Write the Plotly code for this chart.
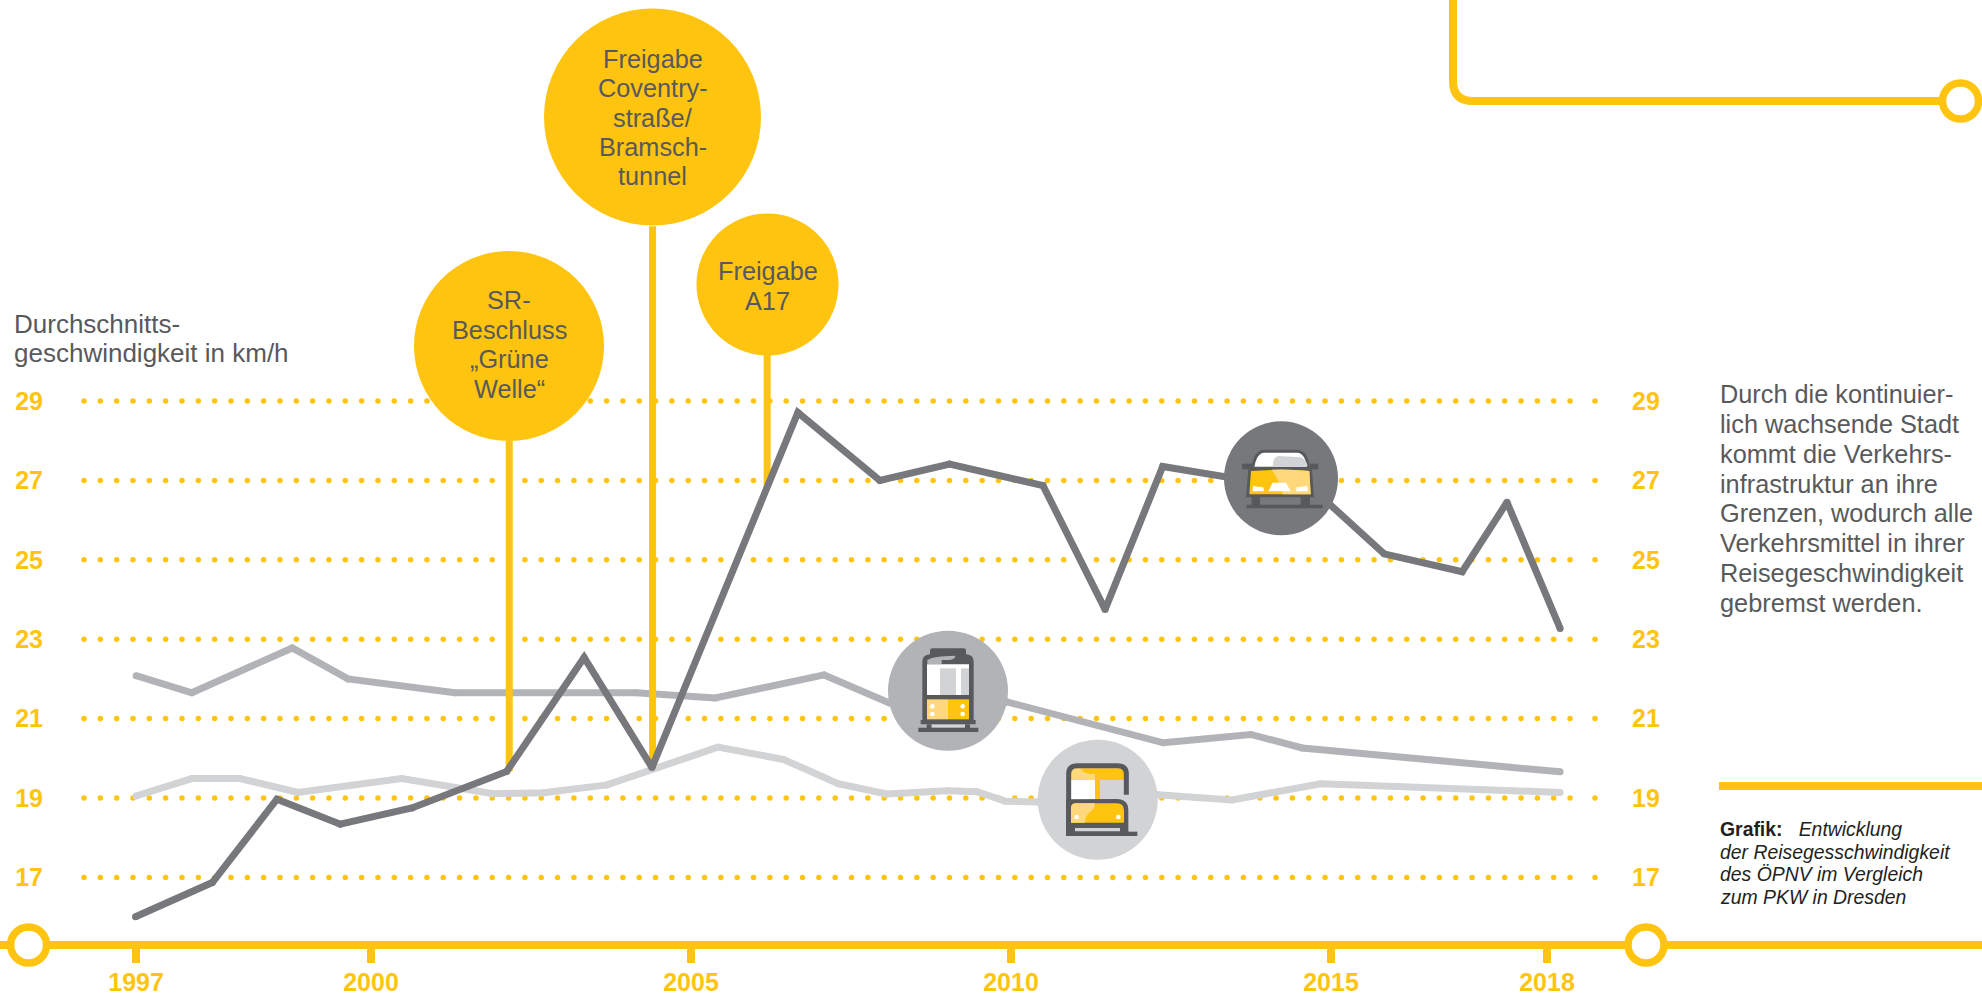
import re
import numpy as np
import plotly.graph_objects as go

W, H = 1982, 996
YELLOW = "#FFC40F"
LIGHTY = "#FFD87C"
DARK = "#58595B"
PKW_C = "#77787B"
TRAM_C = "#B1B3B6"
BUS_C = "#D1D3D4"
FONT = "Liberation Sans"

# ---- data (x is the chart's own horizontal position scale in years)
pkw_x = [1996.32, 1997.52, 1998.53, 1999.52, 2000.64, 2002.12, 2003.33, 2004.39, 2006.67, 2007.95,
         2009.04, 2010.50, 2011.47, 2012.37, 2013.46, 2014.55, 2015.83, 2017.05, 2017.75, 2018.58]
pkw_y = [16.01, 16.87, 18.97, 18.34, 18.75, 19.67, 22.54, 19.77, 28.71, 27.00,
         27.41, 26.87, 23.75, 27.35, 27.06, 27.03, 25.15, 24.70, 26.45, 23.27]
tram_x = [1996.33, 1997.20, 1998.77, 1999.64, 2001.31, 2004.14, 2005.38, 2007.08, 2008.11,
          2009.05, 2009.94, 2012.38, 2013.75, 2014.55, 2018.58]
tram_y = [22.08, 21.65, 22.78, 22.00, 21.65, 21.65, 21.52, 22.10, 21.39,
          21.39, 21.42, 20.39, 20.60, 20.26, 19.66]
bus_x = [1996.33, 1997.20, 1997.95, 1998.86, 2000.48, 2001.91, 2002.70, 2003.69, 2005.42, 2006.45,
         2007.30, 2008.05, 2009.00, 2009.47, 2009.91, 2010.42, 2012.30, 2013.45, 2014.84, 2018.58]
bus_y = [19.05, 19.49, 19.49, 19.14, 19.49, 19.11, 19.13, 19.33, 20.28, 19.97,
         19.36, 19.10, 19.18, 19.16, 18.92, 18.90, 19.08, 18.95, 19.36, 19.14]

event_x = [2002.16, 2004.40, 2006.19]
event_low = [19.67, 19.77, 26.83]
event_high = [28.0, 33.4, 30.2]

y_ticks = [17, 19, 21, 23, 25, 27, 29]
x_tick_pos = [1996.33, 2000, 2005, 2010, 2015, 2018.375]
x_tick_text = ["1997", "2000", "2005", "2010", "2015", "2018"]

header_lines = ["Durchschnitts-", "geschwindigkeit in km/h"]
bubble1_lines = ["SR-", "Beschluss", "„Grüne", "Welle“"]
bubble2_lines = ["Freigabe", "Coventry-", "straße/", "Bramsch-", "tunnel"]
bubble3_lines = ["Freigabe", "A17"]
side_lines = ["Durch die kontinuier-", "lich wachsende Stadt", "kommt die Verkehrs-",
              "infrastruktur an ihre", "Grenzen, wodurch alle", "Verkehrsmittel in ihrer",
              "Reisegeschwindigkeit", "gebremst werden."]
caption_lines = ["<b>Grafik:</b>\u00a0\u00a0\u00a0<i>Entwicklung</i>", "<i>der Reisegesschwindigkeit</i>",
                 "<i>des ÖPNV im Vergleich</i>", "<i>zum PKW in Dresden</i>"]

x_range = [2000 - 371 / 64, 2000 + (W - 371) / 64]
y_range = [29 - (H - 401) / 39.7, 29 + 401 / 39.7]


def px(x):
    return x / W


def py(y):
    return 1 - y / H


def zpath(ox, oy, d):
    """path in zoomed picture coordinates (3x) -> paper"""
    toks = re.findall(r"[A-Za-z]|-?[\d.]+", d)
    out, even = [], True
    for t in toks:
        if t.isalpha():
            out.append(t)
            even = True
        else:
            v = float(t)
            out.append(f"{px(ox + v / 3):.6f}" if even else f"{py(oy + v / 3):.6f}")
            even = not even
    return " ".join(out)


shapes = []


def circle(cx, cy, r, fill, line=None, lw=0):
    shapes.append(dict(type="circle", xref="paper", yref="paper", layer="above",
                       x0=px(cx - r), x1=px(cx + r), y0=py(cy + r), y1=py(cy - r),
                       fillcolor=fill, line=dict(color=line or fill, width=lw)))


def path(ox, oy, d, fill=None, line=None, lw=0):
    s = dict(type="path", xref="paper", yref="paper", layer="above", path=zpath(ox, oy, d),
             line=dict(color=line or "rgba(0,0,0,0)", width=lw))
    if fill:
        s["fillcolor"] = fill
    shapes.append(s)


def rect(ox, oy, x0, y0, x1, y1, fill):
    path(ox, oy, f"M {x0} {y0} L {x1} {y0} L {x1} {y1} L {x0} {y1} Z", fill=fill)


def zcircle(ox, oy, x, y, r, fill):
    circle(ox + x / 3, oy + y / 3, r / 3, fill)


# rings and rule
path(0, 0, "M 4359 -30 L 4359 243 Q 4359 303 4419 303 L 5817 303", line=YELLOW, lw=8)
circle(28.6, 945, 18, "white", YELLOW, 7.5)
circle(1646, 945, 18, "white", YELLOW, 7.5)
circle(1960.5, 101, 18, "white", YELLOW, 7.5)
rect(0, 0, 5157, 2346, 5946, 2370, YELLOW)

# event bubbles
circle(509, 346, 95, YELLOW)
circle(652.5, 117, 108.5, YELLOW)
circle(767.5, 284.5, 71, YELLOW)

# car icon
O = (1180, 400)
circle(1281, 478.3, 57, PKW_C)
path(*O, "M 218 205 Q 225 156 252 154 L 352 154 Q 380 156 386 205 Z", fill="white", line=DARK, lw=3)
path(*O, "M 278 198 Q 280 170 295 168 L 362 172 Q 378 178 383 198 Z", fill=BUS_C)
rect(*O, 186, 191, 218, 208, DARK)
rect(*O, 390, 191, 415, 208, DARK)
path(*O, "M 205 208 Q 300 200 396 208 L 402 292 L 198 292 Z", fill=DARK)
path(*O, "M 213 213 Q 300 206 388 213 L 392 283 L 208 283 Z", fill=YELLOW)
path(*O, "M 275 209 Q 335 207 388 213 L 392 283 L 308 283 Q 298 240 275 209 Z", fill=LIGHTY)
path(*O, "M 219 258 L 250 262 L 252 274 L 218 274 Z", fill="white")
path(*O, "M 382 258 L 350 262 L 348 274 L 384 274 Z", fill="white")
path(*O, "M 278 248 L 318 248 L 332 274 L 265 274 Z", fill="white")
rect(*O, 215, 290, 240, 318, DARK)
rect(*O, 362, 290, 390, 318, DARK)
rect(*O, 200, 314, 428, 325, DARK)

# tram icon
O = (850, 600)
circle(948, 690.7, 60, TRAM_C)
path(*O, "M 240 170 L 240 152 Q 240 145 248 145 L 340 145 Q 348 145 348 152 L 348 170 Z", fill=DARK)
path(*O, "M 217 365 L 217 183 Q 218 165 240 163 L 350 163 Q 370 165 371 183 L 371 365 Z", fill=DARK)
path(*O, "M 232 192 L 232 180 Q 250 168 315 167 Q 318 176 300 180 L 275 180 L 275 192 Z", fill=TRAM_C)
rect(*O, 231, 193, 357, 285, "white")
rect(*O, 270, 205, 318, 285, BUS_C)
rect(*O, 333, 205, 357, 285, BUS_C)
rect(*O, 231, 298, 294, 358, LIGHTY)
rect(*O, 294, 298, 357, 358, YELLOW)
for zx in (247, 338):
    for zy in (319, 342):
        zcircle(*O, zx, zy, 7, "white")
rect(*O, 212, 360, 377, 373, DARK)
rect(*O, 230, 373, 245, 395, DARK)
rect(*O, 345, 373, 360, 395, DARK)
rect(*O, 205, 383, 385, 396, DARK)
rect(*O, 245, 374, 345, 382, BUS_C)

# bus icon
circle(1097.7, 799.7, 60, BUS_C)
rect(*O, 663, 505, 822, 540, YELLOW)
path(*O, "M 663 505 L 692 505 Q 697 520 720 522 L 735 522 L 735 540 L 663 540 Z", fill=LIGHTY)
rect(*O, 663, 540, 735, 600, "white")
rect(*O, 735, 540, 750, 600, YELLOW)
path(*O, "M 656 610 L 656 522 Q 656 497 682 497 L 802 497 Q 829 497 829 522 L 829 584",
     line=DARK, lw=5)
path(*O, "M 648 610 L 648 598 L 800 597 Q 835 598 835 630 L 835 708 L 648 708 Z", fill=DARK)
path(*O, "M 663 668 L 663 625 Q 663 610 678 610 L 800 610 Q 822 610 822 632 L 822 668 Z", fill=YELLOW)
path(*O, "M 663 668 L 663 625 Q 663 610 678 610 L 735 610 Q 733 628 725 632 Q 705 645 705 668 Z", fill=LIGHTY)
zcircle(*O, 680, 651, 7, "white")
zcircle(*O, 805, 651, 7, "white")
rect(*O, 675, 684, 810, 694, BUS_C)
rect(*O, 830, 695, 862, 708, DARK)

# ---- traces
fig = go.Figure()

# dotted guide rows; the rows the first event stem crosses leave one dot out
dot_px = np.append(84 + 16.33 * np.arange(92), 1595.0)
dot_years = 2000 + (dot_px - 371) / 64
for tick in y_ticks:
    row = dot_years
    if tick > event_low[0]:
        row = row[np.abs(row - event_x[0]) > 0.06]
    fig.add_trace(go.Scatter(x=row, y=np.full(len(row), tick), mode="markers",
                             marker=dict(color=YELLOW, size=5.5), hoverinfo="skip"))


def series(x, y, color):
    fig.add_trace(go.Scatter(x=x, y=y, mode="lines+markers",
                             line=dict(color=color, width=7),
                             marker=dict(color=color, size=7)))


series(bus_x, bus_y, BUS_C)
series(tram_x, tram_y, TRAM_C)
for ex, lo, hi in zip(event_x, event_low, event_high):
    fig.add_trace(go.Scatter(x=[ex, ex], y=[lo, hi], mode="lines",
                             line=dict(color=YELLOW, width=7), hoverinfo="skip"))
series(pkw_x, pkw_y, PKW_C)
fig.add_trace(go.Scatter(x=[x_range[0]], y=[y_range[0]], yaxis="y2", mode="markers",
                         marker=dict(size=1, opacity=0), hoverinfo="skip"))

# ---- texts
TXT = dict(family=FONT, size=25.3, color=DARK)
HEAD = dict(family=FONT, size=26, color=DARK)
CAP = dict(family=FONT, size=19.4, color="#231F20")


def block(x, y_first, lines, step, xanchor="center", font=TXT):
    return [dict(xref="paper", yref="paper", x=px(x), y=py(y_first + i * step), text=t,
                 showarrow=False, xanchor=xanchor, yanchor="middle",
                 align="left" if xanchor == "left" else "center", font=font)
            for i, t in enumerate(lines)]


annotations = (
    block(12, 324, header_lines, 29.2, "left", HEAD)
    + block(509, 300, bubble1_lines, 29.7)
    + block(652.5, 59, bubble2_lines, 29.3)
    + block(767.5, 271, bubble3_lines, 29.7)
    + block(1718, 394, side_lines, 29.85, "left")
    + block(1718, 829, caption_lines, 22.6, "left", CAP)
)

TICK = dict(family=FONT, size=25, color=YELLOW, weight=700)
fig.update_layout(
    width=W, height=H, margin=dict(l=0, r=0, t=0, b=0, autoexpand=False), autosize=False,
    paper_bgcolor="white", plot_bgcolor="white", showlegend=False, hovermode=False,
    shapes=shapes, annotations=annotations,
    xaxis=dict(range=x_range, fixedrange=True, showgrid=False, zeroline=False,
               anchor="free", position=py(945), side="bottom",
               showline=True, linecolor=YELLOW, linewidth=8,
               ticks="outside", ticklen=14, tickwidth=8, tickcolor=YELLOW,
               ticklabelstandoff=-2,
               tickvals=x_tick_pos, ticktext=x_tick_text, tickfont=TICK),
    yaxis=dict(range=y_range, fixedrange=True, showgrid=False, zeroline=False,
               anchor="free", position=px(43), side="left", showline=False, ticks="",
               tickvals=y_ticks, tickfont=TICK),
    yaxis2=dict(range=y_range, fixedrange=True, showgrid=False, zeroline=False, overlaying="y",
                anchor="free", position=px(1631), side="right", showline=False, ticks="",
                tickvals=y_ticks, tickfont=TICK),
)
fig.write_html("out.html", config={"displayModeBar": False},
               post_script="document.body.style.margin='0';")
